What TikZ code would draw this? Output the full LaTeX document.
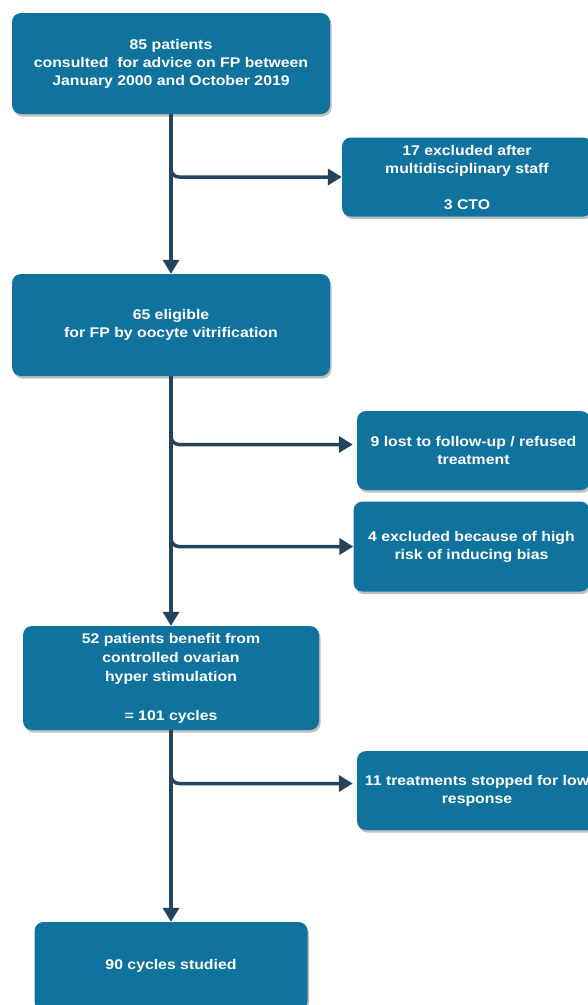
\documentclass[tikz,border=0pt]{standalone}
\usepackage{fontspec}
\newfontfamily\flowfont[FakeStretch=1.13]{Liberation Sans}
\usepackage{tikz}
\usetikzlibrary{arrows.meta,positioning,shadows}
\definecolor{boxblue}{HTML}{10739E}
\definecolor{linedark}{HTML}{23445D}

\begin{document}
\begin{tikzpicture}[x=1pt, y=-1pt,
  flowbox/.style={rectangle, rounded corners=9pt, fill=boxblue, text=white,
    inner sep=0pt, align=center, font=\flowfont\bfseries\fontsize{14}{18}\selectfont,
    drop shadow={shadow xshift=1.5pt, shadow yshift=-2.5pt, fill=black, opacity=0.25}},
  flow/.style={draw=linedark, line width=3.5pt, -{Triangle[length=14pt,width=16pt]}}]
  \useasboundingbox (0,0) rectangle (588,1005);

  % Main column
  \node[flowbox, minimum width=318pt, minimum height=101pt] (consult) at (171,63.5)
    {85 patients\\consulted~ for advice on FP between\\January 2000 and October 2019};
  \node[flowbox, minimum width=318pt, minimum height=102pt] (eligible) at (171,325)
    {65 eligible\\for FP by oocyte vitrification};
  \node[flowbox, minimum width=296pt, minimum height=104pt,
    font=\flowfont\bfseries\fontsize{14}{19.3}\selectfont] (cohs) at (171,678)
    {52 patients benefit from\\controlled ovarian\\hyper stimulation\\[19.3pt]= 101 cycles};
  \node[flowbox, minimum width=273pt, minimum height=88pt] (studied) at (171,966)
    {90 cycles studied};

  % Exclusions
  \node[flowbox, minimum width=250pt, minimum height=79pt] (excl17) at (467,177)
    {17 excluded after\\multidisciplinary staff\\[18pt]3 CTO};
  \node[flowbox, minimum width=233pt, minimum height=79pt] (lost9) at (473.5,450.5)
    {9 lost to follow-up / refused\\treatment};
  \node[flowbox, minimum width=236pt, minimum height=90pt] (bias4) at (471.5,546.5)
    {4 excluded because of high\\risk of inducing bias};
  \node[flowbox, minimum width=240pt, minimum height=79pt] (low11) at (477,790.5)
    {11 treatments stopped for low\\response};

  % Connectors
  \draw[flow] (consult.south) -- (eligible.north);
  \draw[flow, rounded corners=8pt] (consult.south) |- (excl17.west);
  \draw[flow] (eligible.south) -- (cohs.north);
  \draw[flow, rounded corners=8pt, shorten >=4pt] (eligible.south) |- ([yshift=6pt]lost9.west);
  \draw[flow, rounded corners=8pt] (eligible.south) |- (bias4.west);
  \draw[flow] (cohs.south) -- (studied.north);
  \draw[flow, rounded corners=8pt, shorten >=4pt] (cohs.south) |- ([yshift=7pt]low11.west);
\end{tikzpicture}
\end{document}
